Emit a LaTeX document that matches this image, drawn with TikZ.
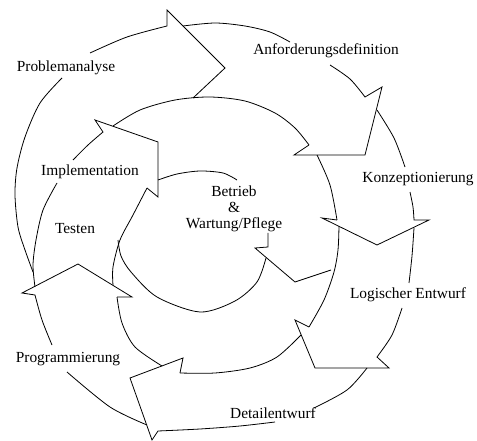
\documentclass[tikz,border=0pt]{standalone}
\usepackage{fontspec}
\setmainfont{Liberation Serif}
\begin{document}
\begin{tikzpicture}[x=1pt,y=-1pt,line width=.8pt,line join=miter,
  phase/.style={font=\fontsize{15.4}{16}\selectfont,inner sep=0pt}]
\useasboundingbox (0,0) rectangle (477,441);
% Phasen beschriften
\node[phase] (problem) at (66,68) {Problemanalyse};
\node[phase] (anford) at (326,51) {Anforderungsdefinition};
\node[phase] (konzept) at (418,179) {Konzeptionierung};
\node[phase] (logisch) at (408,295) {Logischer Entwurf};
\node[phase] (detail) at (273,413) {Detailentwurf};
\node[phase] (prog) at (68,359) {Programmierung};
\node[phase] (testen) at (75,229) {Testen};
\node[phase] (impl) at (90,172) {Implementation};
\node[phase,align=center] (betrieb) at (234,209) {Betrieb\\\&\\Wartung/Pflege};

% Problemanalyse
\draw plot[smooth] coordinates {(33,272) (25,250) (18,227) (15,195) (17,168) (25,137) (40,103) (62,78)};
\draw plot[smooth] coordinates {(90,53) (127,37) (167,26)} -- (167,10) -- (225,68) -- (193,98);
% Anforderungsdefinition
\draw plot[smooth] coordinates {(183,26) (215,23) (245,26) (270,32) (290,42)};
\draw plot[smooth] coordinates {(330,65) (350,79) (365,97)} -- (382,87) -- (365,155) -- (294,155) -- (309,145);
\draw plot[smooth] coordinates {(113,126) (140,110) (175,100) (210,97) (245,101) (275,113) (295,128) (309,145)};
% Konzeptionierung
\draw plot[smooth] coordinates {(377,110) (394,138) (405,167)};
\draw plot[smooth] coordinates {(410,192) (413,207) (414,220)} -- (429,220) -- (377,245) -- (322,218) -- (337,220);
\draw plot[smooth] coordinates {(317,155) (330,185) (337,220)};
% Logischer Entwurf
\draw plot[smooth] coordinates {(414,228) (412,256) (409,283)};
\draw plot[smooth] coordinates {(402,308) (392,335) (377,357)} -- (389,368) -- (315,368) -- (295,320) -- (309,327);
\draw plot[smooth] coordinates {(339,226) (338,250) (334,272) (324,300) (309,327)};
% Detailentwurf
\draw plot[smooth] coordinates {(367,368) (347,390) (314,408)};
\draw plot[smooth] coordinates {(275,422) (240,426) (200,429) (158,431)} -- (152,440) -- (130,378) -- (183,358) -- (180,373);
\draw plot[smooth] coordinates {(301,335) (277,357) (250,368) (215,373) (180,373)};
% Programmierung
\draw plot[smooth] coordinates {(147,425) (110,407) (67,372)};
\draw plot[smooth] coordinates {(52,345) (42,320) (35,295)} -- (22,293) -- (78,264) -- (132,297) -- (117,297);
\draw plot[smooth] coordinates {(162,366) (135,347) (122,323) (117,297)};
% Testen
\draw plot[smooth] coordinates {(35,287) (33,265) (36,240) (43,210) (57,183)};
\draw plot[smooth] coordinates {(73,160) (88,145) (103,132)} -- (95,120) -- (158,142) -- (158,197) -- (147,188);
\draw plot[smooth] coordinates {(113,285) (113,267) (120,240) (133,215) (147,188)};
% Implementation und Betrieb
\draw plot[smooth] coordinates {(158,180) (177,174) (200,171) (223,173) (237,180)};
\draw (268,233) -- (268,247) -- (255,248) -- (295,282) -- (331,270);
\draw plot[smooth] coordinates {(118,240) (121,256) (131,272) (157,297) (200,312) (235,301) (257,282) (266,258)};
\end{tikzpicture}
\end{document}
